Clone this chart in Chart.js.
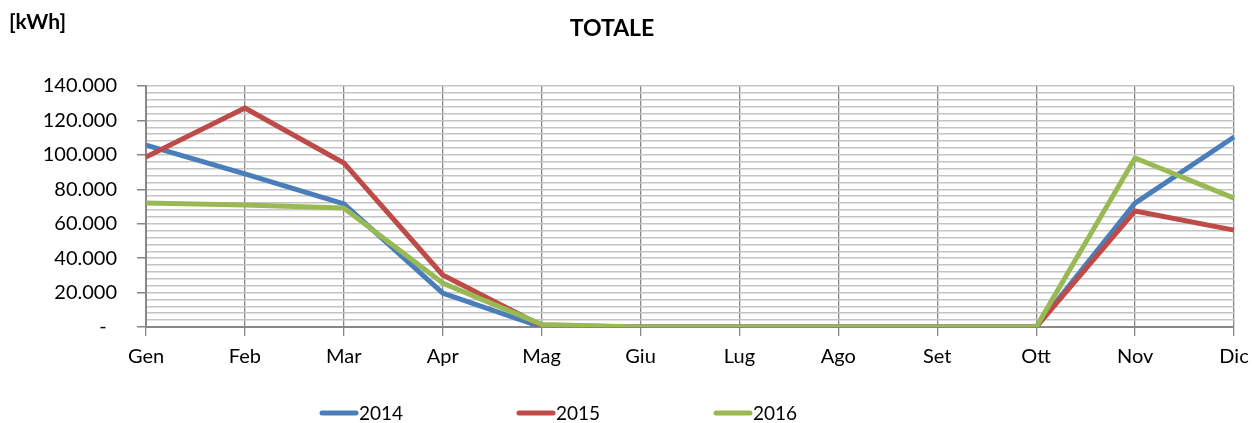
<!DOCTYPE html>
<html>
<head>
<meta charset="utf-8">
<script src="https://cdn.jsdelivr.net/npm/chart.js@4/dist/chart.umd.min.js"></script>
<style>
  body { margin: 0; background: #fff; }
  #wrap { width: 1252px; height: 423px; position: relative; }
</style>
</head>
<body>
<div id="wrap"><canvas id="totChart"></canvas></div>
<script>
// mesi
const mesi = ['Gen', 'Feb', 'Mar', 'Apr', 'Mag', 'Giu', 'Lug', 'Ago', 'Set', 'Ott', 'Nov', 'Dic'];

// consumi [kWh]
const anno2014 = [105700, 88900, 71500, 19700, 0, 0, 0, 0, 0, 0, 72000, 110400];
const anno2015 = [98800, 127200, 95300, 30200, 800, 0, 0, 0, 0, 0, 67400, 56300];
const anno2016 = [72000, 70900, 69100, 25500, 1500, 0, 0, 0, 0, 0, 98200, 74900];

const anni = ['2014', '2015', '2016'];
const colori = ['#4A7EBB', '#BE4B48', '#98B954'];

const FONT = 'Lato, "Open Sans", sans-serif';

function formatta(v) {
    if (v === 0) return '-  ';
    return String(v).replace(/\B(?=(\d{3})+(?!\d))/g, '.');
}

// titolo, unità e legenda
const testiPlugin = {
    id: 'testi',
    afterDraw(chart) {
        const ctx = chart.ctx;
        ctx.save();
        ctx.fillStyle = '#000';
        ctx.textBaseline = 'middle';
        ctx.font = 'bold 23px ' + FONT;
        ctx.textAlign = 'center';
        ctx.fillText('TOTALE', 612, 29);
        ctx.font = 'bold 21px ' + FONT;
        ctx.textAlign = 'left';
        ctx.fillText('[kWh]', 9, 22);

        ctx.font = '19px ' + FONT;
        chart.data.datasets.forEach((ds, i) => {
            const x = 322 + i * 197;
            const y = 413;
            ctx.strokeStyle = ds.borderColor;
            ctx.lineWidth = 5;
            ctx.lineCap = 'round';
            ctx.beginPath();
            ctx.moveTo(x, y);
            ctx.lineTo(x + 34, y);
            ctx.stroke();
            ctx.fillText(ds.label, x + 37, y + 1);
        });
        ctx.restore();
    }
};

new Chart(document.getElementById('totChart'), {
    type: 'line',
    data: {
        labels: mesi,
        datasets: [
            { label: anni[0], data: anno2014, borderColor: colori[0], order: 2 },
            { label: anni[1], data: anno2015, borderColor: colori[1], order: 1 },
            { label: anni[2], data: anno2016, borderColor: colori[2], order: 0 }
        ]
    },
    options: {
        responsive: true,
        maintainAspectRatio: false,
        animation: false,
        layout: { padding: { top: 86, right: 18, left: 0, bottom: 0 } },
        elements: {
            line: { borderWidth: 5, tension: 0, borderJoinStyle: 'round', borderCapStyle: 'butt', fill: false },
            point: { radius: 0, hoverRadius: 0 }
        },
        plugins: {
            legend: { display: false },
            title: { display: false },
            tooltip: { enabled: false }
        },
        scales: {
            x: {
                offset: false,
                afterFit: s => { s.height = 96; s.paddingLeft = 0; s.paddingRight = 0; },
                grid: { color: '#878787', lineWidth: 1.3, tickLength: 9, tickColor: '#878787' },
                border: { color: '#878787', width: 2 },
                ticks: { color: '#000', font: { family: FONT, size: 20 }, padding: 9, maxRotation: 0, autoSkip: false }
            },
            y: {
                min: 0,
                max: 140000,
                afterFit: s => { s.width = 146; },
                grid: {
                    color: '#c4c4c4',
                    lineWidth: 1.5,
                    tickLength: 9,
                    tickColor: c => (c.tick && c.tick.value % 20000 === 0) ? '#878787' : 'rgba(0,0,0,0)'
                },
                border: { color: '#878787', width: 2 },
                ticks: {
                    stepSize: 4000,
                    autoSkip: false,
                    color: '#000',
                    padding: 20,
                    font: { family: FONT, size: 20 },
                    callback: v => (v % 20000 === 0) ? formatta(v) : ''
                }
            }
        }
    },
    plugins: [testiPlugin]
});
</script>
</body>
</html>
